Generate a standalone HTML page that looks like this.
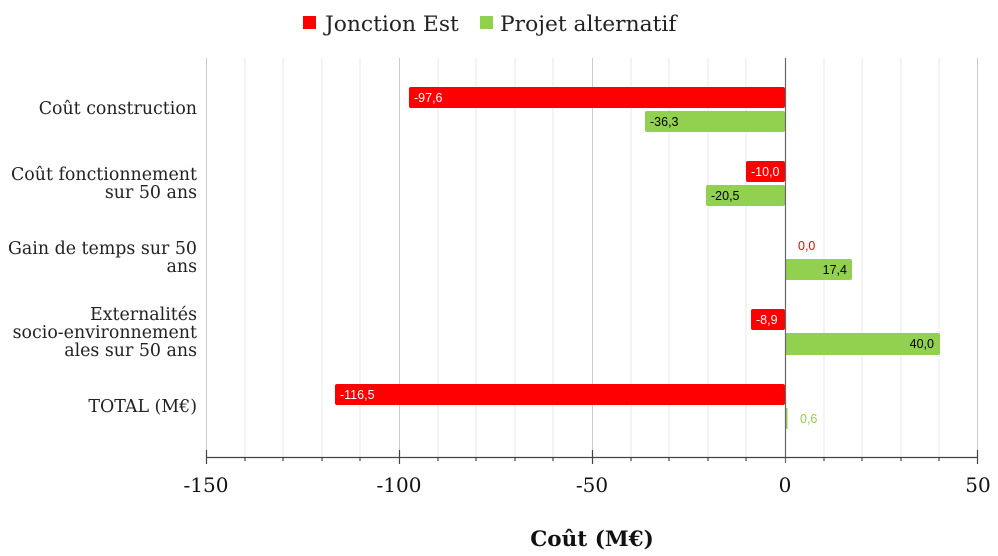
<!DOCTYPE html>
<html><head><meta charset="utf-8"><style>
html,body{margin:0;padding:0;background:#fff;}
svg{display:block;}
.cat{font-family:"DejaVu Serif","Liberation Serif",serif;font-size:17.4px;fill:#222;}
.tk{font-family:"DejaVu Serif","Liberation Serif",serif;font-size:20px;fill:#111;}
.dl{font-family:"Liberation Sans",sans-serif;font-size:12.5px;}
</style></head><body>
<svg width="998" height="556" viewBox="0 0 998 556" xmlns="http://www.w3.org/2000/svg">
<g stroke="#e8e8e8" stroke-width="1">
<line x1="245" y1="58" x2="245" y2="457"/><line x1="283" y1="58" x2="283" y2="457"/><line x1="322" y1="58" x2="322" y2="457"/><line x1="360" y1="58" x2="360" y2="457"/>
<line x1="438" y1="58" x2="438" y2="457"/><line x1="476" y1="58" x2="476" y2="457"/><line x1="515" y1="58" x2="515" y2="457"/><line x1="553" y1="58" x2="553" y2="457"/>
<line x1="631" y1="58" x2="631" y2="457"/><line x1="669" y1="58" x2="669" y2="457"/><line x1="708" y1="58" x2="708" y2="457"/><line x1="746" y1="58" x2="746" y2="457"/>
<line x1="824" y1="58" x2="824" y2="457"/><line x1="862" y1="58" x2="862" y2="457"/><line x1="901" y1="58" x2="901" y2="457"/><line x1="939" y1="58" x2="939" y2="457"/>
</g>
<g stroke="#cccccc" stroke-width="1">
<line x1="206.5" y1="58" x2="206.5" y2="457"/><line x1="399.5" y1="58" x2="399.5" y2="457"/><line x1="592.5" y1="58" x2="592.5" y2="457"/><line x1="977.5" y1="58" x2="977.5" y2="457"/>
</g>
<g>
<rect x="409" y="87" width="376" height="21" rx="2" fill="#ff0000"/>
<rect x="645" y="111" width="140" height="21" rx="2" fill="#92d050"/>
<rect x="746" y="161" width="39" height="21" rx="2" fill="#ff0000"/>
<rect x="706" y="185" width="79" height="21" rx="2" fill="#92d050"/>
<rect x="785" y="259" width="67" height="21" rx="2" fill="#92d050"/>
<rect x="751" y="309" width="34" height="21" rx="2" fill="#ff0000"/>
<rect x="785" y="333" width="155" height="22" rx="2" fill="#92d050"/>
<rect x="335" y="384" width="450" height="21" rx="2" fill="#ff0000"/>
<rect x="785" y="408" width="2.5" height="21" fill="#92d050"/>
</g>
<g class="dl">
<text x="414" y="102" fill="#fff">-97,6</text>
<text x="650" y="126" fill="#000">-36,3</text>
<text x="751" y="176" fill="#fff">-10,0</text>
<text x="711" y="200" fill="#000">-20,5</text>
<text x="798" y="250" fill="#ff0000">0,0</text>
<text x="847" y="274" fill="#000" text-anchor="end">17,4</text>
<text x="756" y="324" fill="#fff">-8,9</text>
<text x="934" y="348" fill="#000" text-anchor="end">40,0</text>
<text x="340" y="399" fill="#fff">-116,5</text>
<text x="800" y="423" fill="#92d050">0,6</text>
</g>
<line x1="785.5" y1="58" x2="785.5" y2="463" stroke="#666" stroke-width="1.2"/>
<line x1="206" y1="457.5" x2="978" y2="457.5" stroke="#444" stroke-width="1.2"/>
<g stroke="#444" stroke-width="1.2">
<line x1="206.5" y1="450" x2="206.5" y2="464"/><line x1="399.5" y1="450" x2="399.5" y2="464"/><line x1="592.5" y1="450" x2="592.5" y2="464"/><line x1="977.5" y1="450" x2="977.5" y2="464"/>
<line x1="245" y1="457" x2="245" y2="461"/><line x1="283" y1="457" x2="283" y2="461"/><line x1="322" y1="457" x2="322" y2="461"/><line x1="360" y1="457" x2="360" y2="461"/>
<line x1="438" y1="457" x2="438" y2="461"/><line x1="476" y1="457" x2="476" y2="461"/><line x1="515" y1="457" x2="515" y2="461"/><line x1="553" y1="457" x2="553" y2="461"/>
<line x1="631" y1="457" x2="631" y2="461"/><line x1="669" y1="457" x2="669" y2="461"/><line x1="708" y1="457" x2="708" y2="461"/><line x1="746" y1="457" x2="746" y2="461"/>
<line x1="824" y1="457" x2="824" y2="461"/><line x1="862" y1="457" x2="862" y2="461"/><line x1="901" y1="457" x2="901" y2="461"/><line x1="939" y1="457" x2="939" y2="461"/>
</g>
<g class="tk" text-anchor="middle">
<text x="206" y="492">-150</text><text x="399" y="492">-100</text><text x="592" y="492">-50</text><text x="785" y="492">0</text><text x="978" y="492">50</text>
</g>
<text x="592" y="546" text-anchor="middle" style="font-family:'DejaVu Serif','Liberation Serif',serif;font-size:21.5px;font-weight:bold;fill:#111">Coût (M€)</text>
<g class="cat" text-anchor="end">
<text x="197" y="114">Coût construction</text>
<text x="197" y="180">Coût fonctionnement</text><text x="197" y="198">sur 50 ans</text>
<text x="197" y="254">Gain de temps sur 50</text><text x="197" y="272">ans</text>
<text x="197" y="320">Externalités</text><text x="197" y="338">socio-environnement</text><text x="197" y="356">ales sur 50 ans</text>
<text x="197" y="412">TOTAL (M€)</text>
</g>
<rect x="303" y="16" width="13" height="13" fill="#ff0000"/>
<text x="325" y="31" style="font-family:'DejaVu Serif','Liberation Serif',serif;font-size:21.8px;fill:#222">Jonction Est</text>
<rect x="480" y="16" width="13" height="13" fill="#92d050"/>
<text x="500" y="31" style="font-family:'DejaVu Serif','Liberation Serif',serif;font-size:21.8px;fill:#222">Projet alternatif</text>
</svg>
</body></html>
